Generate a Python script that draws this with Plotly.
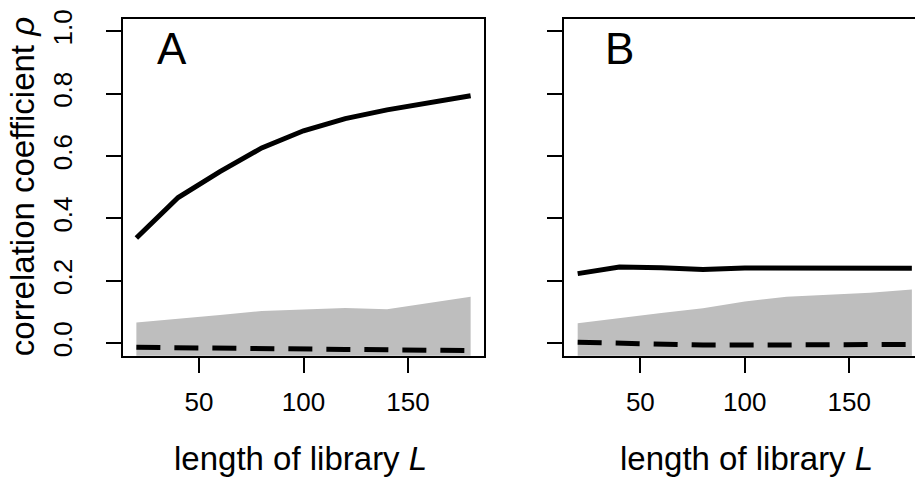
import plotly.graph_objects as go

# ---- data ----
L = [20, 40, 60, 80, 100, 120, 140, 160, 180]

rho_A = [0.337, 0.467, 0.550, 0.626, 0.681, 0.720, 0.748, 0.771, 0.793]
null_A = [-0.013, -0.015, -0.016, -0.018, -0.019, -0.020, -0.021, -0.023, -0.024]
band_hi_A = [0.066, 0.077, 0.090, 0.103, 0.107, 0.113, 0.109, 0.130, 0.149]
band_lo_A = [-0.10, -0.10, -0.10, -0.10, -0.10, -0.10, -0.10, -0.10, -0.10]

rho_B = [0.223, 0.244, 0.242, 0.236, 0.241, 0.240, 0.240, 0.240, 0.240]
null_B = [0.003, -0.001, -0.004, -0.006, -0.006, -0.006, -0.006, -0.006, -0.004]
band_hi_B = [0.064, 0.081, 0.097, 0.112, 0.134, 0.149, 0.155, 0.162, 0.172]
band_lo_B = [-0.10, -0.10, -0.10, -0.10, -0.10, -0.10, -0.10, -0.10, -0.10]

y_ticks = [0.0, 0.2, 0.4, 0.6, 0.8, 1.0]
y_ticktext = ["0.0", "0.2", "0.4", "0.6", "0.8", "1.0"]
x_ticks = [50, 100, 150]
x_ticktext = ["50", "100", "150"]
panel_labels = ["A", "B"]
x_title = "length of library <i>L</i>"
y_title = "correlation coefficient <i>ρ</i>"

W, H = 915, 482
FONT = "Liberation Sans, Arial, Helvetica, sans-serif"
GRAY = "rgb(190,190,190)"


def px(x):
    return x / W


def py(y):
    return 1 - y / H


fig = go.Figure()

panels = [
    (rho_A, null_A, band_hi_A, band_lo_A, "x", "y"),
    (rho_B, null_B, band_hi_B, band_lo_B, "x2", "y2"),
]
for rho, nul, hi, lo, xa, ya in panels:
    fig.add_trace(go.Scatter(
        x=L + L[::-1], y=hi + lo[::-1], fill="toself", fillcolor=GRAY,
        line=dict(width=0, color=GRAY), mode="lines", hoverinfo="skip",
        showlegend=False, xaxis=xa, yaxis=ya))
    fig.add_trace(go.Scatter(
        x=L, y=rho, mode="lines", line=dict(color="black", width=5),
        showlegend=False, xaxis=xa, yaxis=ya))
    fig.add_trace(go.Scatter(
        x=L, y=nul, mode="lines",
        line=dict(color="black", width=5, dash="24px,14px"),
        showlegend=False, xaxis=xa, yaxis=ya))

y_dom = [py(354), py(10)]
axis_common = dict(showgrid=False, zeroline=False, showline=True,
                   linecolor="black", linewidth=2, ticks="outside",
                   ticklen=15, tickwidth=2, tickcolor="black",
                   tickfont=dict(family=FONT, size=26, color="black"))

fig.update_layout(
    width=W, height=H,
    margin=dict(l=0, r=0, t=0, b=0),
    paper_bgcolor="white", plot_bgcolor="white",
    xaxis=dict(domain=[px(123), px(484)], range=[13.6, 186.4],
               tickvals=x_ticks, ticktext=x_ticktext, mirror=True,
               anchor="y", ticklabelstandoff=7, **axis_common),
    yaxis=dict(domain=y_dom, range=[-0.04, 1.04], tickvals=y_ticks,
               ticktext=y_ticktext, tickangle=-90, mirror=True,
               anchor="x", ticklabelstandoff=24, **axis_common),
    xaxis2=dict(domain=[px(564.3), 1.0], range=[13.6, 181.5],
                tickvals=x_ticks, ticktext=x_ticktext, mirror=True,
                anchor="y2", ticklabelstandoff=7, **axis_common),
    yaxis2=dict(domain=y_dom, range=[-0.04, 1.04], tickvals=y_ticks,
                showticklabels=False, mirror=False,
                anchor="x2", **axis_common),
)

ann = []
# x titles
for cx in (300, 746):
    ann.append(dict(text=x_title, x=px(cx), y=py(459), xref="paper",
                    yref="paper", showarrow=False, xanchor="center",
                    yanchor="middle",
                    font=dict(family=FONT, size=33, color="black")))
# y title
ann.append(dict(text=y_title, x=px(22), y=py(182), xref="paper",
                yref="paper", showarrow=False, textangle=-90,
                xanchor="center", yanchor="middle",
                font=dict(family=FONT, size=33, color="black")))
# panel labels
for lab, cx in zip(panel_labels, (172, 619.5)):
    ann.append(dict(text=lab, x=px(cx), y=py(40), xref="paper",
                    yref="paper", showarrow=False, xanchor="center",
                    yanchor="middle",
                    font=dict(family=FONT, size=44, color="black")))
fig.update_layout(annotations=ann)

fig.write_html("out.html")
